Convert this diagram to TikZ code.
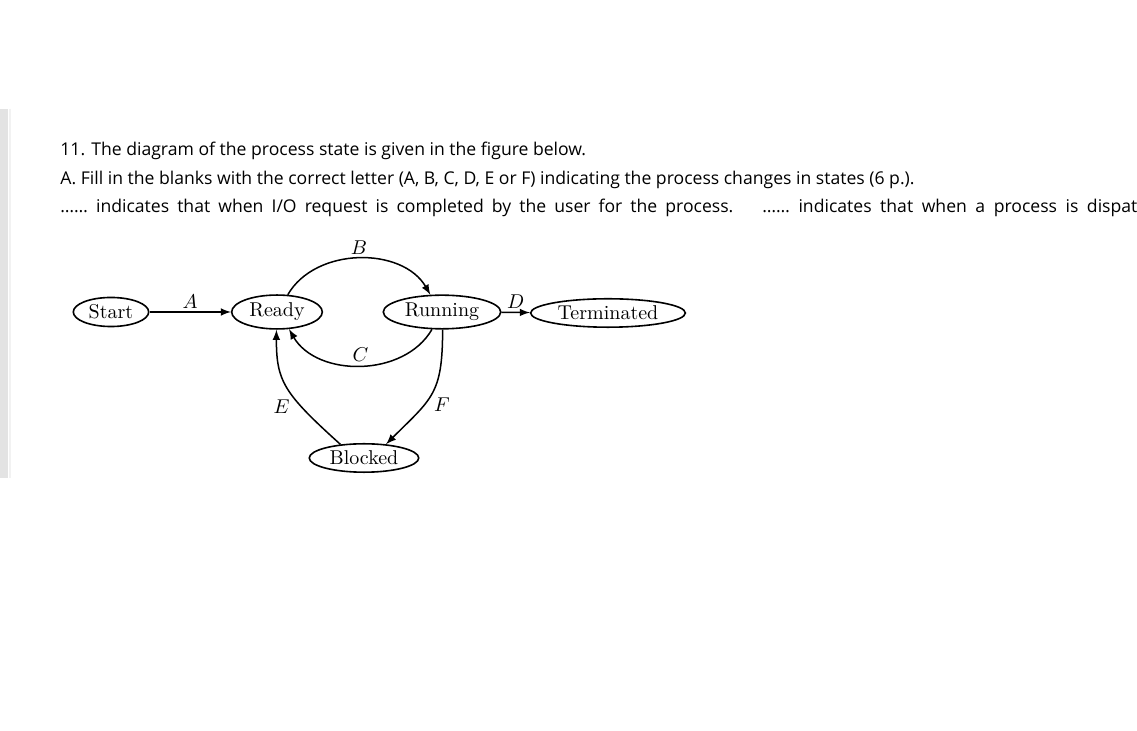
\documentclass[tikz,border=0pt]{standalone}
\usepackage{fontspec}
\newfontfamily\qfont{Open Sans}
\usepackage{amsmath}
\usetikzlibrary{shapes,arrows}

\begin{document}
\begin{tikzpicture}[x=0.5pt,y=-0.5pt]
\tikzstyle{every node}+=[inner sep=0pt]
\tikzstyle{state}=[draw=black,ellipse,line width=0.8pt,inner xsep=2.2pt,inner ysep=1.5pt,font=\fontsize{10}{12}\selectfont]
\tikzstyle{trans}=[line width=0.75pt,-latex]
\tikzstyle{lbl}=[inner sep=1.5pt,font=\fontsize{10}{12}\selectfont]
\tikzstyle{line}=[anchor=base west,text=black,font=\qfont\fontsize{8.8}{10}\selectfont]
\useasboundingbox (0,0) rectangle (1137,731);
\fill [white] (0,0) rectangle (1137,731);
\fill [black!11] (0,109) rectangle (8,478);
\draw [black!5,line width=0.6pt] (10,109) -- (10,478);
% question text
\node [line] (line1) at (60,156) {11. The diagram of the process state is given in the figure below.};
\node [line] (line2) at (60,185) {A. Fill in the blanks with the correct letter (A, B, C, D, E or F) indicating the process changes in states (6 p.).};
\node [line] (line3a) at (60,213) {\makebox[336.5pt][s]{…… indicates that when I/O request is completed by the user for the process.}};
\node [line] (line3b) at (762,213) {\makebox[187.5pt][s]{…… indicates that when a process is dispat}};
% states
\node [state] (start) at (111,312) {Start};
\node [state] (ready) at (277,312) {Ready};
\node [state] (running) at (442,312) {Running};
\node [state] (terminated) at (608,313) {Terminated};
\node [state] (blocked) at (364,458) {Blocked};
% transitions
\draw [trans] (start) -- (ready) node [lbl,midway,above] {$A$};
\draw [trans] (ready.58) to [out=60,in=120] node [lbl,above] {$B$} (running.124);
\draw [trans] (running.240) to [out=240,in=300] node [lbl,above] {$C$} (ready.305);
\draw [trans] (running) -- (terminated) node [lbl,midway,above] {$D$};
\draw [trans] (blocked.150) to [out=138,in=270,out looseness=1.5,in looseness=1] node [lbl,left=4pt,pos=0.3] {$E$} (ready.268);
\draw [trans] (running.272) to [out=270,in=45,looseness=1.3] node [lbl,right=3pt,pos=0.62] {$F$} (blocked.32);
\end{tikzpicture}
\end{document}
